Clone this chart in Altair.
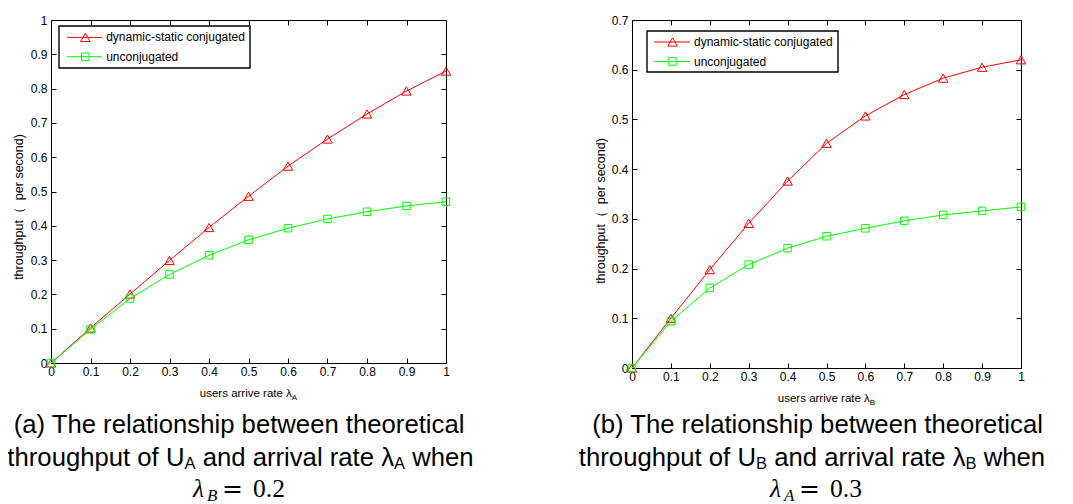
import altair as alt
import pandas as pd

# ---------------- data ----------------
x_rate = [0.0, 0.1, 0.2, 0.3, 0.4, 0.5, 0.6, 0.7, 0.8, 0.9, 1.0]
a_conjugated = [0.0, 0.102, 0.201, 0.299, 0.395, 0.486, 0.574, 0.653, 0.726, 0.793, 0.851]
a_unconjugated = [0.0, 0.098, 0.188, 0.258, 0.314, 0.359, 0.393, 0.420, 0.441, 0.458, 0.470]
b_conjugated = [0.0, 0.100, 0.198, 0.291, 0.376, 0.452, 0.507, 0.550, 0.583, 0.605, 0.620]
b_unconjugated = [0.0, 0.094, 0.161, 0.208, 0.241, 0.265, 0.281, 0.296, 0.308, 0.316, 0.324]

series_names = ["dynamic-static conjugated", "unconjugated"]
series_colors = ["#ff0000", "#00ff00"]
series_shapes = ["triangle-up", "square"]

x_ticks = [0, 0.1, 0.2, 0.3, 0.4, 0.5, 0.6, 0.7, 0.8, 0.9, 1]
ya_ticks = [0, 0.1, 0.2, 0.3, 0.4, 0.5, 0.6, 0.7, 0.8, 0.9, 1]
yb_ticks = [0, 0.1, 0.2, 0.3, 0.4, 0.5, 0.6, 0.7]

y_title = "throughput\uff08\u00a0\u00a0per second)"
x_title_main = "users arrive rate \u03bb"
caption_a = ["(a) The relationship between theoretical",
             [("throughput of U", 0), ("A", 1), (" and arrival rate \u03bb", 0), ("A", 1), (" when", 0)],
             ("\u03bb", "B", "0.2")]
caption_b = ["(b) The relationship between theoretical",
             [("throughput of U", 0), ("B", 1), (" and arrival rate \u03bb", 0), ("B", 1), (" when", 0)],
             ("\u03bb", "A", "0.3")]

# ---------------- layout constants ----------------
W, H = 1057, 496
FONT = "Liberation Sans"
TICK_FS = 12
ONE = pd.DataFrame({"k": [0]})

ARIAL = {' ': 278, '(': 333, ')': 333, '.': 278, '-': 333, '=': 584, '\u03bb': 500,
         'A': 667, 'B': 667, 'T': 611, 'U': 722}
for c in "abdeghnopqu":
    ARIAL[c] = 556
for c in "ckvxyzs":
    ARIAL[c] = 500
for c in "ftj":
    ARIAL[c] = 278
ARIAL.update({'i': 222, 'j': 222, 'l': 222, 'm': 833, 'r': 333, 'w': 722})
for c in "0123456789":
    ARIAL[c] = 556


def tw(s, size):
    return sum(ARIAL.get(ch, 556) for ch in s) / 1000.0 * size


def txt(s, x, y, size, align="left", baseline="alphabetic", font=FONT,
        style="normal", angle=0, color="black"):
    return alt.Chart(ONE).mark_text(
        text=s, fontSize=size, align=align, baseline=baseline, font=font,
        fontStyle=style, angle=angle, color=color
    ).encode(x=alt.value(x), y=alt.value(y))


def seg_line(segs, cx, y, size, sub_size, sub_dy):
    total = sum(tw(t, sub_size if s else size) for t, s in segs)
    x = cx - total / 2
    out = []
    for t, s in segs:
        sz = sub_size if s else size
        lead = len(t) - len(t.lstrip(" "))
        out.append(txt(t.strip(" "), x + tw(" " * lead, sz), y + (sub_dy if s else 0), sz))
        x += tw(t, sz)
    return out


def panel(conj, unconj, ydom, yticks, x0, x1, yb, yt):
    xs = alt.Scale(domain=[0, 1], range=[x0, x1], nice=False, zero=False)
    ys = alt.Scale(domain=ydom, range=[yb, yt], nice=False, zero=False)
    base = dict(grid=False, title=None, domainColor="black", tickColor="black",
                domainWidth=1, tickWidth=1, labelFont=FONT, labelFontSize=TICK_FS,
                labelColor="black", labelFlush=False, labelOverlap=False)
    x1ax = alt.Axis(orient="bottom", offset=yb - H, values=x_ticks, format="~g",
                    ticks=False, tickSize=0, labelPadding=3, domain=True, **base)
    y1ax = alt.Axis(orient="left", offset=-x0, values=yticks, format="~g",
                    ticks=False, tickSize=0, labelPadding=4, domain=True, **base)
    x2ax = alt.Axis(orient="top", offset=-yb, values=x_ticks, labels=False,
                    domain=False, ticks=True, tickSize=5, **base)
    y2ax = alt.Axis(orient="right", offset=x0 - W, values=yticks, labels=False,
                    domain=False, ticks=True, tickSize=5, **base)
    x3ax = alt.Axis(orient="bottom", offset=yt - H, values=x_ticks, labels=False,
                    domain=True, ticks=True, tickSize=5, **base)
    y3ax = alt.Axis(orient="left", offset=-x1, values=yticks, labels=False,
                    domain=True, ticks=True, tickSize=5, **base)

    dc = pd.DataFrame({"x": x_rate, "y": conj, "series": series_names[0]})
    du = pd.DataFrame({"x": x_rate, "y": unconj, "series": series_names[1]})

    def enc(ax_x, ax_y):
        return dict(x=alt.X("x:Q", scale=xs, axis=ax_x), y=alt.Y("y:Q", scale=ys, axis=ax_y))

    l1 = alt.Chart(dc).mark_line(color=series_colors[0], strokeWidth=1).encode(**enc(x1ax, y1ax))
    l2 = alt.Chart(dc).mark_point(shape=series_shapes[0], filled=False, size=90,
                                  color=series_colors[0], strokeWidth=1, opacity=1).encode(**enc(x2ax, y2ax))
    l3 = alt.Chart(du).mark_line(color=series_colors[1], strokeWidth=1).encode(**enc(x3ax, y3ax))
    l4 = alt.Chart(du).mark_point(shape=series_shapes[1], filled=False, size=56,
                                  color=series_colors[1], strokeWidth=1, opacity=1).encode(**enc(None, None))
    return [l1, l2, l3, l4]


def legend(bx0, bx1, by0, by1, rows, lx0, lx1, mx, tx):
    out = [alt.Chart(ONE).mark_rect(fill="white", stroke="black", strokeWidth=1.4).encode(
        x=alt.value(bx0), x2=alt.value(bx1), y=alt.value(by0), y2=alt.value(by1))]
    sizes = [90, 56]
    for i, ry in enumerate(rows):
        out.append(alt.Chart(ONE).mark_rule(color=series_colors[i], strokeWidth=1).encode(
            x=alt.value(lx0), x2=alt.value(lx1), y=alt.value(ry)))
        out.append(alt.Chart(ONE).mark_point(shape=series_shapes[i], filled=False, size=sizes[i],
                                             color=series_colors[i], strokeWidth=1, opacity=1).encode(
            x=alt.value(mx), y=alt.value(ry)))
        out.append(txt(series_names[i], tx, ry, 12, baseline="middle"))
    return out


def captions(cap, cx1, cx2, left3):
    out = [txt(cap[0], cx1, 425, 25.7, align="center")]
    out += seg_line(cap[1], cx2, 458, 25.7, 16.5, 3)
    lam, sub, val = cap[2]
    out.append(txt(lam, left3, 489, 25.5, font="Liberation Serif", style="italic"))
    out.append(txt(sub, left3 + 14, 493, 17, font="Liberation Serif", style="italic"))
    out.append(txt("=", left3 + 29, 489, 25, font="DejaVu Serif"))
    out.append(txt(val, left3 + 60, 489, 25.5, font="Liberation Serif"))
    return out


layers = []
layers += panel(a_conjugated, a_unconjugated, [0, 1], ya_ticks, 43, 438, 355, 12)
layers += panel(b_conjugated, b_unconjugated, [0, 0.7], yb_ticks, 624, 1013, 360, 12)

layers += legend(51, 242, 18, 60, [29.4, 48.7], 59, 94, 77.3, 98.2)
layers += legend(639, 830, 23, 64, [34, 53.5], 646, 682, 664.5, 686)

# axis titles
layers.append(txt(y_title, 11, 199, 12.5, align="center", baseline="middle", angle=270))
layers.append(txt(y_title, 592.5, 203, 12.5, align="center", baseline="middle", angle=270))
layers += seg_line([(x_title_main, 0), ("A", 1)], 240.5, 389, 11.5, 8, 3)
layers += seg_line([(x_title_main, 0), ("B", 1)], 818.5, 394, 11.5, 8, 3)

layers += captions(caption_a, 231, 232.5, 185)
layers += captions(caption_b, 809.5, 804, 762)

chart = alt.layer(*layers).resolve_scale(
    x="independent", y="independent"
).properties(
    width=W, height=H, autosize=alt.AutoSizeParams(type="none"), padding=0,
    background="white"
).configure_view(stroke=None).configure_axis(
    labelFontSize=TICK_FS, labelFont=FONT, labelColor="black"
)

chart.save("out.html", embed_options={"renderer": "svg", "actions": False})
